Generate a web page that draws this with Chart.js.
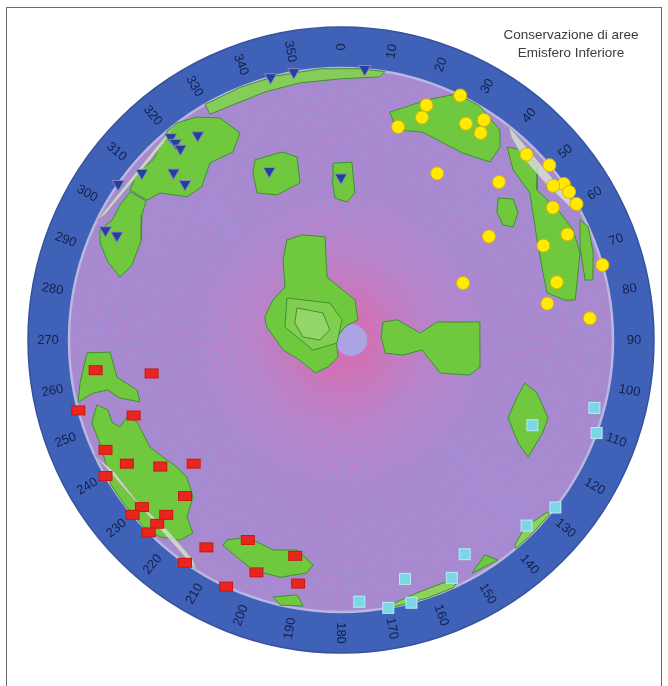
<!DOCTYPE html>
<html><head><meta charset="utf-8">
<script src="https://cdn.jsdelivr.net/npm/chart.js@4.4.1/dist/chart.umd.min.js"></script>
<style>
html,body{margin:0;padding:0;background:#fff;}
#wrap{position:relative;width:668px;height:686px;overflow:hidden;}
canvas{position:absolute;left:0;top:0;}
#frame{position:absolute;left:6px;top:7px;width:656px;height:720px;border:1px solid #6e6e6e;box-sizing:border-box;pointer-events:none;}
#title{position:absolute;left:478px;top:26px;width:186px;text-align:center;font:13.5px "Liberation Sans",Arial,sans-serif;color:#3c3c3c;line-height:18px;}
</style></head><body>
<div id="wrap"><canvas id="c" width="668" height="686"></canvas><div id="frame"></div><div id="title">Conservazione di aree<br>Emisfero Inferiore</div></div>
<script>
// ---------- data (trend, plunge in degrees; lower hemisphere) ----------
const ringAngles = [0,10,20,30,40,50,60,70,80,90,100,110,120,130,140,150,160,170,180,190,200,210,220,230,240,250,260,270,280,290,300,310,320,330,340,350];
const ringLabels = ['0','10','20','30','40','50','60','70','80','90','100','110','120','130','140','150','160','170','180','190','200','210','220','230','240','250','260','270','280','290','300','310','320','330','340','350'];

const yellowTrend  = [26,20,20,15,30,33,34,45,50,30,45,55,54,57,60,58,55,65,65,74,65,75,80,85];
const yellowPlunge = [0,9,14,20,9,4,9,4,0,30,19,0,4,0,0,9,34,9,19,0,49,19,24,9];

const redTrend  = [263,260,255,250,245,240,235,230,240,225,230,230,225,225,225,213,205,192,215,200,190,205];
const redPlunge = [10,30,0,20,5,10,20,30,0,20,5,0,10,5,0,10,20,20,0,10,10,0];

const cyanTrend  = [105,110,114,128,135,150,155,165,176,165,170];
const cyanPlunge = [4,0,24,0,4,10,4,10,4,0,0];

const triTrend  = [325,320,320,320,315,315,310,295,295,5,345,350,337,0,305];
const triPlunge = [9,3,6,9,14,20,5,5,10,0,0,0,33,40,0];

const lowSpotTrend = [90], lowSpotPlunge = [87];

const centralOuter = [[331.6,55.6],[339.6,56.1],[351.2,58.5],[347.5,70.7],[358.9,74.4],[19.3,77.3],[40.4,82.2],[19.7,85.5],[291.8,88.4],[190,84.8],[205.7,81.1],[218.2,77.5],[244,76.3],[260.2,72.4],[280,67.4],[286.8,66.1],[300.5,66.3],[313.4,66.9],[324.1,60.2]];
const centralMid = [[307.9,69.5],[343.4,78.5],[2.9,84],[233,88.5],[250.3,81.1],[283,72.8]];
const centralInner = [[306,73.7],[326.3,80.3],[312.3,85.5],[270,83.7],[274.5,78.6],[290.3,75.3]];
const eastBowtie = [[66.8,76.3],[70.3,72.1],[84.9,66.1],[79.4,60.5],[82.6,47.3],[101,46.8],[105.2,49.4],[108.4,58.4],[97,65.5],[103.6,70.9],[106.5,76.2],[85.7,78]];
const seDiamond = [[103.2,31.2],[105.1,26.3],[110.6,19.8],[114.5,19.5],[122,20],[120.2,25.6],[115,32.7],[108,32.5]];
const northBlockA = [[334.5,27.5],[342.6,28.4],[346.5,31.4],[345.4,40.1],[336.2,41.3],[330.3,37.8],[332.2,31.2]];
const northBlockB = [[357.4,35.2],[3.5,34.8],[5.4,44.8],[2.5,47.9],[357.6,46.7],[356.8,40.8]];
const neBlob = [[47.9,23.2],[50.7,19.3],[54.3,21],[56.7,25.3],[54.6,27.8],[50.6,26.7]];
const nePlateau = [[12.1,15.4],[19.7,7],[25.2,0],[30.6,0],[37.1,3.6],[39.5,8.9],[39.9,15.8],[33.1,19.1],[28.5,19.5],[21.5,19],[14.9,21.2]];
const neBand = [[40.7,7.1],[43.8,3.7],[48.6,4.4],[52.6,10.2],[55.8,9.2],[59.9,7.6],[64.6,6.2],[70,7.2],[80.3,13.7],[79.9,17.5],[77.1,23.3],[71.6,22.8],[63,20.2],[56.5,16.5],[52.1,13],[45.3,12]];
const neSliver = [[63.3,1.9],[65.4,0],[71,2.2],[76.6,5.4],[76.2,8.4],[68.7,6.3]];
const nwUpper = [[320.4,0],[323,0],[327.1,2.7],[331.4,7.8],[334,16.4],[330.1,21.4],[323.5,20.1],[317.7,24.9],[312.9,23.7],[309.1,15.4],[305.8,13.1],[305.4,5.4],[309.3,3.5],[313.8,4.8],[316.8,3]];
const nwLower = [[305.1,5.9],[305.5,13],[302.1,14.7],[296.6,19],[289.7,19.5],[285.9,16.6],[288.5,10.6],[291.9,5.1],[294.5,2.9],[297.7,5.6],[301.4,5.4]];
const northRim = [[330,0],[338.2,0],[346,0],[355.6,0],[4,0],[9.3,0],[8.4,2.5],[359.8,4.5],[350.9,4.8],[343,5.2],[335.8,5.5],[329.9,4.5]];
const swUpper = [[267.1,7.2],[267,16.1],[260.6,17.6],[256.2,23.8],[252.9,23.7],[255.3,17.1],[257.9,13.4],[257.9,7.5],[256.7,0.8],[260.6,3.1]];
const swMain = [[255.1,7.9],[253.3,11.5],[250.3,11.5],[248.5,13.7],[250.2,17.5],[248.1,20.3],[240.7,20.6],[236.7,22.7],[232.2,24.7],[228.3,25.1],[223.3,21.8],[221,14.8],[217.5,11.5],[218.8,6.2],[222.6,1.9],[226.6,0],[232.9,0],[237.9,0],[241.5,2.4],[246.9,4],[251.6,3.9]];
const southBlob = [[209.7,16.5],[205.5,20.8],[197.9,20],[191.8,22.2],[187.1,17.8],[188.3,14.5],[194.4,10.9],[200.9,10.4],[205.6,12.5],[209.9,14]];
const southSliver = [[194.8,2.6],[189.8,5.5],[188.1,1.4],[192.9,0]];
const seSliverA = [[170.6,0.5],[163.3,3.3],[157.2,3.5],[154,2],[155.6,0],[161.5,0],[168.2,0]];
const seSliverB = [[150.7,1.9],[146.2,5.5],[144.5,0.7]];
const seSliverC = [[139.7,1.3],[135.5,4],[129.7,1.3],[130,0],[136.2,0],[140,0]];
const swStreak = [[245,0],[212,0],[214,3],[222,6],[232,5],[240,4]];
const neStreak = [[38,0],[62,0],[60,3],[52,6],[45,6],[40,3]];
const nwStreak = [[296,0],[322,0],[318,3],[305,4],[298,2]];

// ---------- Schmidt (equal-area) projection ----------
const DEG = Math.PI/180;
function project(t,p){ const r = Math.SQRT2*Math.sin((90-p)/2*DEG); return {x: r*Math.sin(t*DEG), y: r*Math.cos(t*DEG)}; }
function pts(tr, pl){ return tr.map((t,i)=>project(t, pl[i])); }
function poly(pairs){ const a = pairs.map(q=>project(q[0],q[1])); a.push(a[0]); return a; }

// ---------- layout ----------
const W=668, H=686, CXP=341, CYP=340, RP=272;
const RING_OUT = 313/272, RING_LABEL = 293/272;

function markerCanvas(w,h,fill,stroke){
  const c=document.createElement('canvas'); c.width=w+2; c.height=h+2;
  const g=c.getContext('2d'); g.fillStyle=fill; g.fillRect(1,1,w,h);
  g.strokeStyle=stroke; g.lineWidth=1; g.strokeRect(1.5,1.5,w-1,h-1); return c;
}
const redRect = markerCanvas(14,10,'#e8251f','#c81812');
const cyanSq = markerCanvas(12,12,'#7dd6e6','#b6ecf4');

function green(data, order, fillC){
  return {data: poly(data), showLine:true, fill:'shape', tension:0, pointRadius:0, pointHoverRadius:0,
    backgroundColor: fillC||'#70c83e', borderColor:'#409030', borderWidth:1, order: order};
}
function streak(data){
  return {data: poly(data), showLine:true, fill:'shape', tension:0, pointRadius:0,
    backgroundColor:'rgba(222,232,212,0.75)', borderColor:'rgba(150,160,150,0.8)', borderWidth:1, order:2};
}

const netPlugin = {
  id:'net',
  beforeDatasetsDraw(chart){
    const ctx=chart.ctx, xs=chart.scales.x, ys=chart.scales.y;
    const cx=xs.getPixelForValue(0), cy=ys.getPixelForValue(0), r=xs.getPixelForValue(1)-cx;
    ctx.save();
    // outer ring
    ctx.beginPath(); ctx.arc(cx,cy,r*RING_OUT,0,2*Math.PI); ctx.fillStyle='#3f62b8'; ctx.fill();
    ctx.lineWidth=1.5; ctx.strokeStyle='#34529e'; ctx.stroke();
    // labels
    ctx.fillStyle='#14204a'; ctx.font='13px "Liberation Sans", Arial, sans-serif';
    ctx.textAlign='center'; ctx.textBaseline='middle';
    ringAngles.forEach((a,i)=>{
      const x=cx+r*RING_LABEL*Math.sin(a*DEG), y=cy-r*RING_LABEL*Math.cos(a*DEG);
      const rot = a<=180 ? a-90 : a-270;
      ctx.save(); ctx.translate(x,y); ctx.rotate(rot*DEG); ctx.fillText(ringLabels[i],0,0); ctx.restore();
    });
    // lavender disk
    ctx.beginPath(); ctx.arc(cx,cy,r,0,2*Math.PI); ctx.fillStyle='#a28cd2'; ctx.fill();
    ctx.save(); ctx.clip();
    // central pink glow
    const g=ctx.createRadialGradient(cx,cy,0,cx,cy,r*0.55);
    g.addColorStop(0,'rgba(245,80,120,0.75)'); g.addColorStop(0.25,'rgba(238,95,150,0.5)'); g.addColorStop(0.6,'rgba(225,120,185,0.22)'); g.addColorStop(1,'rgba(220,130,200,0)');
    ctx.fillStyle=g; ctx.fillRect(cx-r,cy-r,2*r,2*r);
    // radial grid lines
    ctx.strokeStyle='rgba(214,120,196,0.42)'; ctx.lineWidth=0.7;
    for(let a=0;a<360;a+=1){ ctx.beginPath(); ctx.moveTo(cx+r*0.03*Math.sin(a*DEG),cy-r*0.03*Math.cos(a*DEG)); ctx.lineTo(cx+r*Math.sin(a*DEG),cy-r*Math.cos(a*DEG)); ctx.stroke(); }
    // concentric plunge circles
    ctx.strokeStyle='rgba(214,120,196,0.45)';
    for(let p=0;p<90;p+=2){ const rr=r*Math.SQRT2*Math.sin((90-p)/2*DEG); ctx.beginPath(); ctx.arc(cx,cy,rr,0,2*Math.PI); ctx.stroke(); }
    ctx.restore();
    ctx.beginPath(); ctx.arc(cx,cy,r,0,2*Math.PI); ctx.lineWidth=2.5; ctx.strokeStyle='#bdb6e0'; ctx.stroke();
    ctx.restore();
  }
};

const datasets = [
  {data: pts(triTrend,triPlunge), pointStyle:'triangle', rotation:180, pointRadius:7, backgroundColor:'#23409a', borderColor:'#8c86c8', borderWidth:1, order:0},
  {data: pts(redTrend,redPlunge), pointStyle:redRect, order:0},
  {data: pts(cyanTrend,cyanPlunge), pointStyle:cyanSq, order:0},
  {data: pts(yellowTrend,yellowPlunge), pointStyle:'circle', pointRadius:6.5, backgroundColor:'#ffea00', borderColor:'#e0b400', borderWidth:1, order:0},
  streak(swStreak), streak(neStreak), streak(nwStreak),
  green(centralInner,3,'#94d66a'),
  green(centralMid,4,'#80cf50'),
  green(centralOuter,5), green(eastBowtie,5), green(seDiamond,5), green(northBlockA,5), green(northBlockB,5),
  green(neBlob,5), green(nePlateau,5), green(neBand,5), green(neSliver,5), green(nwUpper,5), green(nwLower,5),
  green(northRim,5,'#86cc5a'), green(swUpper,5), green(swMain,5), green(southBlob,5), green(southSliver,5),
  green(seSliverA,5,'#8ed25c'), green(seSliverB,5), green(seSliverC,5,'#8ed25c'),
  {data: pts(lowSpotTrend,lowSpotPlunge), pointStyle:'circle', pointRadius:16, backgroundColor:'rgba(168,166,232,0.95)', borderWidth:0, order:9}
];

new Chart(document.getElementById('c'), {
  type:'scatter',
  data:{datasets},
  options:{
    responsive:false, animation:false, events:[],
    layout:{padding:0, autoPadding:false},
    plugins:{legend:{display:false}, tooltip:{enabled:false}, title:{display:false}},
    scales:{
      x:{type:'linear', display:false, min:-CXP/RP, max:(W-CXP)/RP},
      y:{type:'linear', display:false, min:-(H-CYP)/RP, max:CYP/RP}
    }
  },
  plugins:[netPlugin]
});
</script>
</body></html>
